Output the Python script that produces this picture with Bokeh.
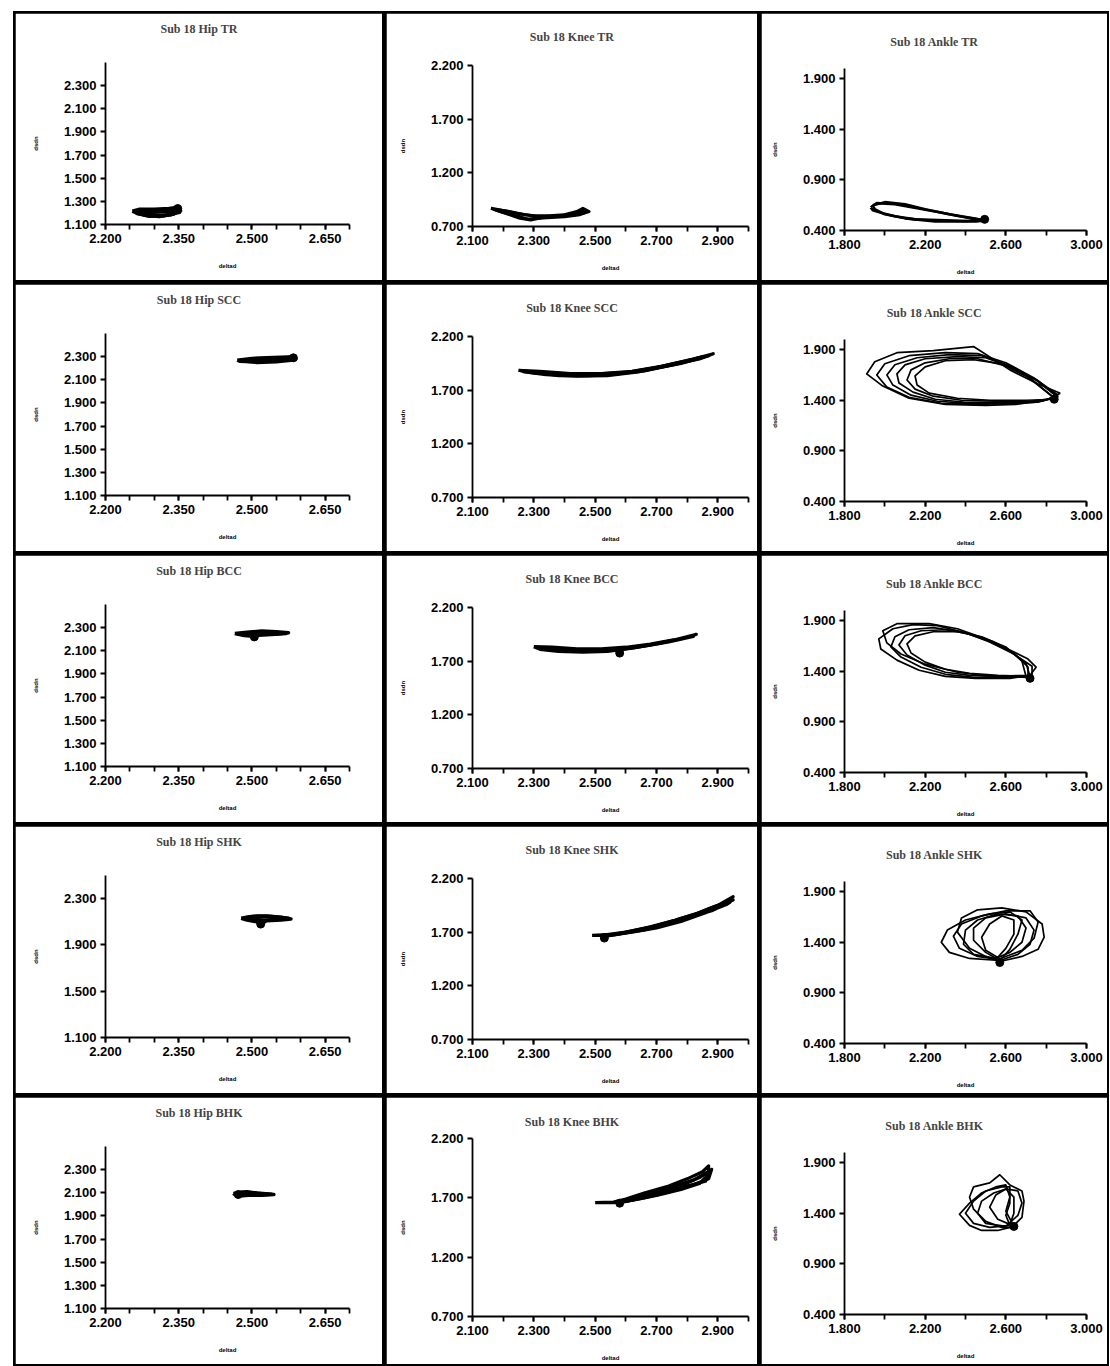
from bokeh.plotting import figure
from bokeh.layouts import row, column
from bokeh.models import Range1d, FixedTicker, NumeralTickFormatter, Title
from bokeh.embed import file_html
from bokeh.resources import INLINE

# ---------------- axis ranges and ticks ----------------
HIP_X_RANGE = (2.2, 2.7)
HIP_Y_RANGE = (1.1, 2.5)
KNEE_X_RANGE = (2.1, 3.0)
KNEE_Y_RANGE = (0.7, 2.2)
ANKLE_X_RANGE = (1.8, 3.0)
ANKLE_Y_RANGE = (0.4, 2.0)

HIP_X_LABELS = [2.2, 2.35, 2.5, 2.65]
HIP_X_TICKS = [2.2, 2.25, 2.3, 2.35, 2.4, 2.45, 2.5, 2.55, 2.6, 2.65, 2.7]
HIP_Y_LABELS = [1.1, 1.3, 1.5, 1.7, 1.9, 2.1, 2.3]
HIP_SHK_Y_LABELS = [1.1, 1.5, 1.9, 2.3]
KNEE_X_LABELS = [2.1, 2.3, 2.5, 2.7, 2.9]
KNEE_X_TICKS = [2.1, 2.2, 2.3, 2.4, 2.5, 2.6, 2.7, 2.8, 2.9, 3.0]
KNEE_Y_LABELS = [0.7, 1.2, 1.7, 2.2]
ANKLE_X_LABELS = [1.8, 2.2, 2.6, 3.0]
ANKLE_X_TICKS = [1.8, 2.0, 2.2, 2.4, 2.6, 2.8, 3.0]
ANKLE_Y_LABELS = [0.4, 0.9, 1.4, 1.9]

X_LABEL = "deltad"
Y_LABEL = "dsdn"

TITLES = [
    "Sub 18 Hip TR", "Sub 18 Knee TR", "Sub 18 Ankle TR",
    "Sub 18 Hip SCC", "Sub 18 Knee SCC", "Sub 18 Ankle SCC",
    "Sub 18 Hip BCC", "Sub 18 Knee BCC", "Sub 18 Ankle BCC",
    "Sub 18 Hip SHK", "Sub 18 Knee SHK", "Sub 18 Ankle SHK",
    "Sub 18 Hip BHK", "Sub 18 Knee BHK", "Sub 18 Ankle BHK",
]

# ---------------- traced cycles (x, y) ----------------
HIP_TR = [
    [(2.255, 1.215), (2.27, 1.232), (2.30, 1.232), (2.33, 1.238), (2.35, 1.25), (2.354, 1.22), (2.335, 1.185), (2.30, 1.178), (2.27, 1.19), (2.255, 1.215)],
    [(2.26, 1.21), (2.29, 1.222), (2.32, 1.226), (2.345, 1.24), (2.352, 1.205), (2.32, 1.175), (2.29, 1.172), (2.265, 1.195), (2.26, 1.21)],
    [(2.265, 1.205), (2.30, 1.205), (2.33, 1.215), (2.345, 1.225), (2.34, 1.19), (2.31, 1.168), (2.28, 1.18), (2.265, 1.205)],
]
HIP_TR_DOT = (2.348, 1.238)

KNEE_TR = [
    [(2.16, 0.87), (2.20, 0.85), (2.25, 0.82), (2.30, 0.80), (2.35, 0.80), (2.40, 0.81), (2.44, 0.84), (2.46, 0.87), (2.48, 0.84), (2.45, 0.81), (2.40, 0.79), (2.33, 0.78), (2.28, 0.77), (2.24, 0.80), (2.19, 0.84), (2.16, 0.87)],
    [(2.17, 0.86), (2.22, 0.84), (2.27, 0.81), (2.32, 0.79), (2.38, 0.80), (2.43, 0.82), (2.47, 0.85), (2.46, 0.82), (2.40, 0.80), (2.34, 0.79), (2.29, 0.76), (2.25, 0.78), (2.20, 0.83), (2.17, 0.86)],
]
KNEE_TR_DOT = None

ANKLE_TR = [
    [(1.93, 0.63), (1.96, 0.67), (2.05, 0.66), (2.16, 0.62), (2.27, 0.58), (2.37, 0.54), (2.46, 0.51), (2.50, 0.50), (2.45, 0.49), (2.30, 0.50), (2.15, 0.51), (2.05, 0.54), (1.99, 0.57), (1.94, 0.60), (1.93, 0.63)],
    [(1.94, 0.65), (2.00, 0.68), (2.10, 0.66), (2.20, 0.61), (2.32, 0.56), (2.44, 0.52), (2.49, 0.50), (2.40, 0.49), (2.25, 0.49), (2.10, 0.52), (2.00, 0.56), (1.95, 0.61), (1.94, 0.65)],
]
ANKLE_TR_DOT = (2.495, 0.51)

HIP_SCC = [
    [(2.47, 2.27), (2.50, 2.285), (2.53, 2.29), (2.56, 2.295), (2.585, 2.30), (2.59, 2.28), (2.56, 2.27), (2.53, 2.26), (2.50, 2.255), (2.475, 2.26), (2.47, 2.27)],
    [(2.48, 2.265), (2.51, 2.28), (2.55, 2.285), (2.58, 2.29), (2.585, 2.27), (2.55, 2.255), (2.51, 2.25), (2.48, 2.265)],
]
HIP_SCC_DOT = (2.585, 2.29)

KNEE_SCC = [
    [(2.25, 1.885), (2.32, 1.875), (2.42, 1.855), (2.52, 1.855), (2.62, 1.875), (2.72, 1.925), (2.82, 1.99), (2.885, 2.04), (2.84, 1.99), (2.74, 1.93), (2.64, 1.87), (2.54, 1.835), (2.44, 1.83), (2.34, 1.845), (2.27, 1.87), (2.25, 1.885)],
    [(2.27, 1.875), (2.36, 1.86), (2.46, 1.845), (2.56, 1.85), (2.66, 1.88), (2.76, 1.94), (2.85, 2.01), (2.80, 1.97), (2.70, 1.91), (2.60, 1.86), (2.50, 1.84), (2.40, 1.84), (2.30, 1.86), (2.27, 1.875)],
    [(2.30, 1.87), (2.40, 1.85), (2.50, 1.85), (2.60, 1.865), (2.70, 1.91), (2.80, 1.975), (2.87, 2.02), (2.78, 1.95), (2.68, 1.895), (2.58, 1.855), (2.48, 1.835), (2.38, 1.835), (2.30, 1.87)],
]
KNEE_SCC_DOT = None

ANKLE_SCC = [
    [(2.87, 1.47), (2.80, 1.40), (2.65, 1.36), (2.50, 1.35), (2.30, 1.36), (2.12, 1.42), (1.99, 1.54), (1.91, 1.66), (1.95, 1.78), (2.06, 1.87), (2.24, 1.89), (2.44, 1.93), (2.62, 1.70), (2.76, 1.56), (2.87, 1.47)],
    [(2.86, 1.45), (2.78, 1.39), (2.62, 1.37), (2.45, 1.36), (2.28, 1.37), (2.12, 1.43), (2.01, 1.53), (1.96, 1.65), (2.00, 1.76), (2.12, 1.84), (2.30, 1.87), (2.46, 1.86), (2.60, 1.77), (2.74, 1.62), (2.86, 1.45)],
    [(2.85, 1.44), (2.76, 1.38), (2.60, 1.37), (2.42, 1.37), (2.26, 1.39), (2.13, 1.45), (2.04, 1.55), (2.01, 1.65), (2.05, 1.75), (2.16, 1.82), (2.32, 1.85), (2.48, 1.84), (2.62, 1.74), (2.75, 1.60), (2.85, 1.44)],
    [(2.86, 1.43), (2.74, 1.38), (2.56, 1.38), (2.40, 1.38), (2.25, 1.41), (2.14, 1.48), (2.07, 1.57), (2.06, 1.66), (2.10, 1.75), (2.20, 1.81), (2.36, 1.83), (2.50, 1.82), (2.64, 1.72), (2.76, 1.59), (2.86, 1.43)],
    [(2.84, 1.42), (2.72, 1.39), (2.55, 1.39), (2.38, 1.40), (2.24, 1.44), (2.15, 1.51), (2.11, 1.60), (2.13, 1.70), (2.20, 1.77), (2.32, 1.81), (2.46, 1.81), (2.60, 1.74), (2.72, 1.62), (2.84, 1.42)],
    [(2.85, 1.41), (2.70, 1.40), (2.52, 1.40), (2.36, 1.42), (2.22, 1.47), (2.16, 1.55), (2.15, 1.64), (2.20, 1.73), (2.30, 1.79), (2.44, 1.80), (2.58, 1.76), (2.70, 1.64), (2.85, 1.41)],
]
ANKLE_SCC_DOT = (2.84, 1.41)

HIP_BCC = [
    [(2.465, 2.25), (2.49, 2.26), (2.52, 2.27), (2.55, 2.265), (2.575, 2.255), (2.55, 2.245), (2.52, 2.24), (2.50, 2.225), (2.48, 2.235), (2.465, 2.25)],
    [(2.47, 2.245), (2.50, 2.255), (2.53, 2.262), (2.57, 2.25), (2.54, 2.24), (2.51, 2.235), (2.47, 2.245)],
]
HIP_BCC_DOT = (2.505, 2.22)

KNEE_BCC = [
    [(2.30, 1.835), (2.36, 1.83), (2.44, 1.815), (2.52, 1.815), (2.60, 1.83), (2.68, 1.86), (2.76, 1.90), (2.83, 1.95), (2.78, 1.91), (2.70, 1.86), (2.62, 1.82), (2.54, 1.79), (2.46, 1.785), (2.38, 1.79), (2.32, 1.81), (2.30, 1.835)],
    [(2.33, 1.82), (2.42, 1.81), (2.50, 1.80), (2.58, 1.81), (2.66, 1.84), (2.74, 1.88), (2.82, 1.93), (2.72, 1.875), (2.64, 1.83), (2.56, 1.80), (2.48, 1.795), (2.40, 1.80), (2.33, 1.82)],
]
KNEE_BCC_DOT = (2.58, 1.775)

ANKLE_BCC = [
    [(2.73, 1.36), (2.62, 1.33), (2.45, 1.33), (2.30, 1.35), (2.17, 1.41), (2.06, 1.51), (1.98, 1.62), (1.97, 1.72), (2.04, 1.82), (2.14, 1.86), (2.26, 1.85), (2.40, 1.78), (2.52, 1.69), (2.64, 1.57), (2.73, 1.45), (2.73, 1.36)],
    [(2.72, 1.35), (2.60, 1.34), (2.44, 1.34), (2.30, 1.37), (2.18, 1.44), (2.08, 1.54), (2.03, 1.64), (2.05, 1.74), (2.12, 1.81), (2.24, 1.83), (2.38, 1.79), (2.50, 1.71), (2.62, 1.60), (2.70, 1.48), (2.72, 1.35)],
    [(2.71, 1.34), (2.58, 1.35), (2.42, 1.36), (2.30, 1.39), (2.20, 1.46), (2.11, 1.56), (2.07, 1.66), (2.10, 1.75), (2.18, 1.80), (2.30, 1.81), (2.42, 1.77), (2.54, 1.69), (2.65, 1.56), (2.71, 1.44), (2.71, 1.34)],
    [(2.70, 1.35), (2.56, 1.36), (2.42, 1.38), (2.30, 1.42), (2.20, 1.49), (2.13, 1.58), (2.11, 1.67), (2.15, 1.75), (2.24, 1.79), (2.36, 1.79), (2.48, 1.74), (2.60, 1.64), (2.68, 1.50), (2.70, 1.35)],
    [(2.72, 1.36), (2.75, 1.44), (2.71, 1.52), (2.63, 1.60), (2.50, 1.72), (2.36, 1.82), (2.22, 1.87), (2.06, 1.87), (1.99, 1.80), (2.01, 1.68), (2.08, 1.57), (2.20, 1.47), (2.36, 1.39), (2.52, 1.35), (2.72, 1.36)],
]
ANKLE_BCC_DOT = (2.72, 1.33)

HIP_SHK = [
    [(2.478, 2.13), (2.50, 2.145), (2.53, 2.15), (2.56, 2.14), (2.58, 2.125), (2.56, 2.115), (2.53, 2.11), (2.52, 2.08), (2.51, 2.10), (2.49, 2.115), (2.478, 2.13)],
    [(2.485, 2.135), (2.51, 2.15), (2.54, 2.145), (2.575, 2.13), (2.55, 2.12), (2.525, 2.115), (2.50, 2.12), (2.485, 2.135)],
]
HIP_SHK_DOT = (2.518, 2.08)

KNEE_SHK = [
    [(2.49, 1.67), (2.56, 1.68), (2.64, 1.72), (2.72, 1.77), (2.80, 1.83), (2.88, 1.90), (2.94, 1.98), (2.93, 1.96), (2.86, 1.88), (2.78, 1.80), (2.70, 1.74), (2.62, 1.70), (2.55, 1.67), (2.49, 1.67)],
    [(2.52, 1.67), (2.60, 1.70), (2.68, 1.75), (2.76, 1.81), (2.84, 1.88), (2.90, 1.95), (2.95, 2.03), (2.91, 1.96), (2.83, 1.86), (2.74, 1.78), (2.66, 1.72), (2.58, 1.685), (2.52, 1.67)],
    [(2.53, 1.66), (2.62, 1.71), (2.70, 1.76), (2.80, 1.84), (2.88, 1.93), (2.95, 2.00), (2.86, 1.90), (2.76, 1.81), (2.66, 1.73), (2.57, 1.68), (2.53, 1.66)],
]
KNEE_SHK_DOT = (2.53, 1.645)

ANKLE_SHK = [
    [(2.57, 1.22), (2.42, 1.24), (2.32, 1.30), (2.28, 1.40), (2.31, 1.52), (2.40, 1.62), (2.52, 1.68), (2.62, 1.70), (2.68, 1.62), (2.66, 1.48), (2.62, 1.33), (2.57, 1.22)],
    [(2.57, 1.21), (2.68, 1.26), (2.76, 1.33), (2.79, 1.45), (2.78, 1.58), (2.70, 1.70), (2.58, 1.74), (2.46, 1.72), (2.38, 1.64), (2.36, 1.50), (2.42, 1.34), (2.50, 1.26), (2.57, 1.21)],
    [(2.56, 1.23), (2.46, 1.26), (2.37, 1.34), (2.34, 1.46), (2.38, 1.58), (2.48, 1.66), (2.60, 1.71), (2.72, 1.71), (2.76, 1.60), (2.74, 1.44), (2.68, 1.32), (2.56, 1.23)],
    [(2.56, 1.25), (2.50, 1.32), (2.48, 1.45), (2.52, 1.58), (2.58, 1.66), (2.64, 1.62), (2.64, 1.48), (2.60, 1.34), (2.56, 1.25)],
    [(2.55, 1.24), (2.44, 1.28), (2.39, 1.38), (2.40, 1.52), (2.46, 1.62), (2.56, 1.68), (2.66, 1.66), (2.70, 1.54), (2.68, 1.40), (2.62, 1.30), (2.55, 1.24)],
    [(2.57, 1.22), (2.66, 1.28), (2.72, 1.38), (2.74, 1.52), (2.70, 1.64), (2.60, 1.68), (2.50, 1.64), (2.44, 1.54), (2.44, 1.42), (2.50, 1.30), (2.57, 1.22)],
]
ANKLE_SHK_DOT = (2.57, 1.20)

HIP_BHK = [
    [(2.462, 2.095), (2.48, 2.105), (2.50, 2.10), (2.52, 2.092), (2.545, 2.085), (2.52, 2.078), (2.50, 2.08), (2.48, 2.075), (2.465, 2.085), (2.462, 2.095)],
    [(2.47, 2.10), (2.49, 2.11), (2.51, 2.098), (2.54, 2.088), (2.51, 2.082), (2.485, 2.08), (2.47, 2.10)],
]
HIP_BHK_DOT = (2.472, 2.085)

KNEE_BHK = [
    [(2.50, 1.66), (2.56, 1.66), (2.62, 1.68), (2.70, 1.72), (2.78, 1.77), (2.84, 1.82), (2.87, 1.90), (2.87, 1.97), (2.85, 1.92), (2.80, 1.86), (2.74, 1.80), (2.66, 1.74), (2.60, 1.69), (2.56, 1.665), (2.50, 1.66)],
    [(2.58, 1.66), (2.66, 1.70), (2.74, 1.75), (2.82, 1.81), (2.87, 1.86), (2.88, 1.94), (2.84, 1.87), (2.77, 1.79), (2.70, 1.74), (2.63, 1.70), (2.58, 1.66)],
    [(2.60, 1.67), (2.70, 1.73), (2.80, 1.80), (2.86, 1.84), (2.87, 1.92), (2.82, 1.85), (2.74, 1.78), (2.66, 1.72), (2.60, 1.67)],
]
KNEE_BHK_DOT = (2.58, 1.655)

ANKLE_BHK = [
    [(2.64, 1.27), (2.56, 1.23), (2.48, 1.23), (2.42, 1.28), (2.37, 1.39), (2.42, 1.50), (2.48, 1.60), (2.55, 1.66), (2.60, 1.68), (2.62, 1.56), (2.60, 1.42), (2.64, 1.27)],
    [(2.63, 1.26), (2.68, 1.36), (2.69, 1.52), (2.68, 1.62), (2.62, 1.68), (2.57, 1.78), (2.52, 1.70), (2.44, 1.66), (2.42, 1.56), (2.44, 1.44), (2.50, 1.32), (2.58, 1.26), (2.63, 1.26)],
    [(2.62, 1.28), (2.52, 1.26), (2.44, 1.30), (2.40, 1.40), (2.44, 1.52), (2.50, 1.62), (2.58, 1.66), (2.62, 1.66), (2.62, 1.50), (2.60, 1.38), (2.62, 1.28)],
    [(2.60, 1.27), (2.50, 1.30), (2.46, 1.40), (2.48, 1.52), (2.54, 1.60), (2.60, 1.64), (2.66, 1.62), (2.68, 1.50), (2.66, 1.38), (2.60, 1.27)],
    [(2.62, 1.29), (2.56, 1.34), (2.52, 1.46), (2.55, 1.58), (2.60, 1.64), (2.64, 1.56), (2.64, 1.40), (2.62, 1.29)],
]
ANKLE_BHK_DOT = (2.64, 1.27)

# ---------------- panel geometry (pixels) ----------------
COL_W = [367, 371, 346]
ROW_H = 267
GEOM = {
    "hip": dict(left=90, right=33, top=49, bottom=56, spacer=11),
    "knee": dict(left=86, right=9, top=52, bottom=54, spacer=6),
    "ankle": dict(left=83, right=21, top=55, bottom=50, spacer=4),
}

# approximate advance widths (per 1000 em) of a Times-like bold face, for centring titles
_W = {"S": 556, "u": 556, "b": 556, " ": 250, "1": 500, "8": 500, "H": 778, "i": 278,
      "p": 556, "T": 667, "R": 722, "K": 778, "n": 556, "e": 444, "A": 722, "k": 556,
      "l": 278, "C": 722, "B": 667}
TITLE_PX = 12


def title_width(s):
    return sum(_W.get(c, 550) for c in s) * TITLE_PX / 1000.0


def make_panel(title, kind, loops, dot, y_labels=None, lw=2.0, top=None, bottom=None,
               spacer=None, title_standoff=0):
    g = GEOM[kind]
    w = COL_W[["hip", "knee", "ankle"].index(kind)]
    if kind == "hip":
        xr, yr, xl, xt, yl = HIP_X_RANGE, HIP_Y_RANGE, HIP_X_LABELS, HIP_X_TICKS, HIP_Y_LABELS
    elif kind == "knee":
        xr, yr, xl, xt, yl = KNEE_X_RANGE, KNEE_Y_RANGE, KNEE_X_LABELS, KNEE_X_TICKS, KNEE_Y_LABELS
    else:
        xr, yr, xl, xt, yl = ANKLE_X_RANGE, ANKLE_Y_RANGE, ANKLE_X_LABELS, ANKLE_X_TICKS, ANKLE_Y_LABELS
    if y_labels is not None:
        yl = y_labels
    tb = top if top is not None else g["top"]
    sp = g["spacer"] if spacer is None else spacer
    p = figure(width=w, height=ROW_H, x_range=Range1d(*xr), y_range=Range1d(*yr),
               output_backend="svg", toolbar_location=None,
               min_border_left=g["left"], min_border_right=g["right"],
               min_border_top=tb,
               min_border_bottom=bottom if bottom is not None else g["bottom"],
               x_axis_label=X_LABEL, y_axis_label=Y_LABEL,
               outline_line_color="white")
    p.frame_align = False
    p.outline_line_width = 2

    # spacer between the frame and the title (pushes the title up into the margin)
    if sp >= 0:
        p.add_layout(Title(text=" ", text_font_size="%dpx" % TITLE_PX, standoff=sp), "above")
    p.title.text = title
    p.title.align = "left"
    p.title.offset = w / 2.0 - g["left"] - title_width(title) / 2.0
    p.title.standoff = title_standoff
    p.title.text_font = "Liberation Serif"
    p.title.text_font_style = "bold"
    p.title.text_font_size = "%dpx" % TITLE_PX
    p.background_fill_color = "white"
    p.border_fill_color = "white"
    p.xgrid.visible = False
    p.ygrid.visible = False

    p.xaxis.ticker = FixedTicker(ticks=xl, minor_ticks=xt)
    p.yaxis.ticker = FixedTicker(ticks=yl)
    for ax in (p.xaxis[0], p.yaxis[0]):
        ax.formatter = NumeralTickFormatter(format="0.000")
        ax.axis_line_color = "black"
        ax.axis_line_width = 1.8
        ax.major_tick_line_color = "black"
        ax.major_tick_line_width = 1.8
        ax.major_tick_out = 5
        ax.major_tick_in = 0
        ax.minor_tick_line_color = "black"
        ax.minor_tick_line_width = 1.8
        ax.minor_tick_out = 5
        ax.minor_tick_in = 0
        ax.major_label_text_font = "Liberation Sans"
        ax.major_label_text_font_style = "bold"
        ax.major_label_text_font_size = "13px"
        ax.major_label_text_color = "black"
        ax.major_label_standoff = 4
        ax.axis_label_text_font = "Liberation Sans"
        ax.axis_label_text_font_style = "bold"
        ax.axis_label_text_font_size = "6px"
        ax.axis_label_text_color = "black"
    p.xaxis.axis_label_standoff = 17
    p.yaxis.axis_label_standoff = 22

    xs = [[pt[0] for pt in lp] for lp in loops]
    ys = [[pt[1] for pt in lp] for lp in loops]
    p.multi_line(xs=xs, ys=ys, line_color="black", line_width=lw, line_join="round")
    if dot is not None:
        p.scatter(x=[dot[0]], y=[dot[1]], size=8, color="black")
    return p


panels = [
    make_panel(TITLES[0], "hip", HIP_TR, HIP_TR_DOT, lw=3.5),
    make_panel(TITLES[1], "knee", KNEE_TR, KNEE_TR_DOT, lw=3.0),
    make_panel(TITLES[2], "ankle", ANKLE_TR, ANKLE_TR_DOT, lw=2.6),
    make_panel(TITLES[3], "hip", HIP_SCC, HIP_SCC_DOT, lw=3.5),
    make_panel(TITLES[4], "knee", KNEE_SCC, KNEE_SCC_DOT, lw=3.2),
    make_panel(TITLES[5], "ankle", ANKLE_SCC, ANKLE_SCC_DOT, lw=1.7),
    make_panel(TITLES[6], "hip", HIP_BCC, HIP_BCC_DOT, lw=3.5),
    make_panel(TITLES[7], "knee", KNEE_BCC, KNEE_BCC_DOT, lw=3.2),
    make_panel(TITLES[8], "ankle", ANKLE_BCC, ANKLE_BCC_DOT, lw=1.7),
    make_panel(TITLES[9], "hip", HIP_SHK, HIP_SHK_DOT, y_labels=HIP_SHK_Y_LABELS, lw=3.5),
    make_panel(TITLES[10], "knee", KNEE_SHK, KNEE_SHK_DOT, lw=3.2),
    make_panel(TITLES[11], "ankle", ANKLE_SHK, ANKLE_SHK_DOT, lw=1.7),
    make_panel(TITLES[12], "hip", HIP_BHK, HIP_BHK_DOT, lw=3.5),
    make_panel(TITLES[13], "knee", KNEE_BHK, KNEE_BHK_DOT, lw=3.2, top=41, bottom=48,
               spacer=-1, title_standoff=20),
    make_panel(TITLES[14], "ankle", ANKLE_BHK, ANKLE_BHK_DOT, lw=1.7),
]

rows_ = [row(*panels[i * 3:(i + 1) * 3], spacing=4) for i in range(5)]
layout = column(*rows_, spacing=4, margin=(11, 0, 0, 13),
                styles={"background-color": "black", "padding": "2px"})

with open("out.html", "w") as f:
    f.write(file_html(layout, INLINE))
